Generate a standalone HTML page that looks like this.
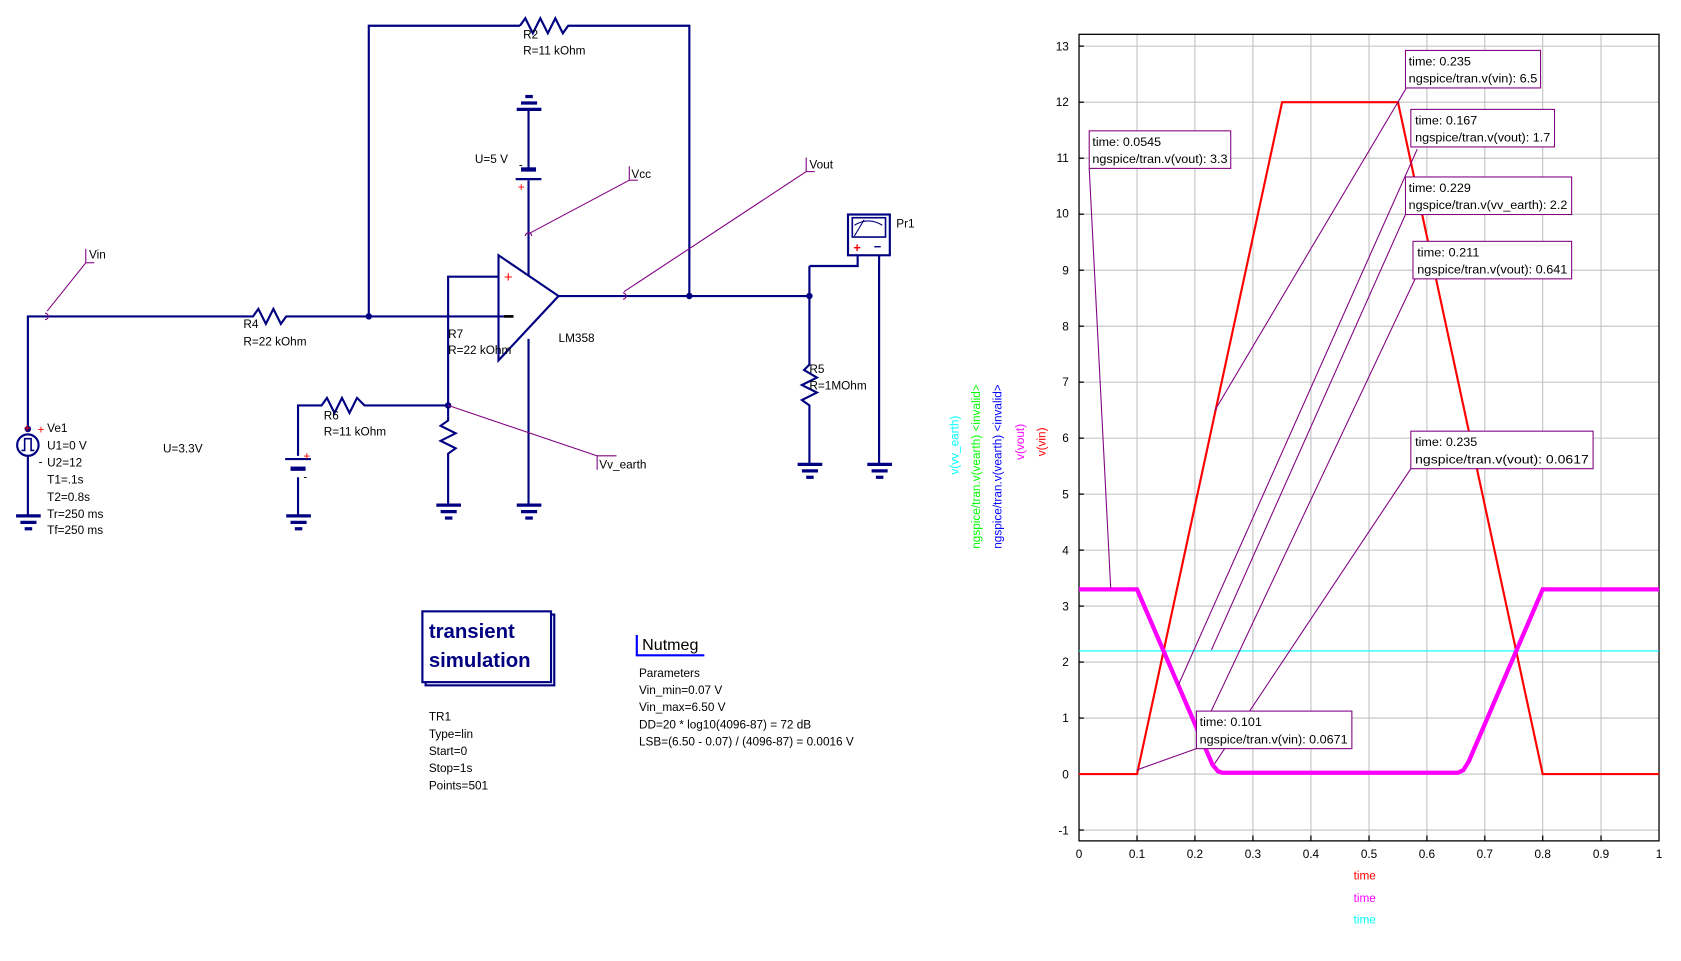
<!DOCTYPE html>
<html><head><meta charset="utf-8"><style>
html,body{margin:0;padding:0;background:#fff;width:1681px;height:961px;overflow:hidden}
svg{display:block}
text{font-family:"Liberation Sans","DejaVu Sans",sans-serif}
</style></head><body>
<svg width="1681" height="961" viewBox="0 0 1568 896" preserveAspectRatio="none" xmlns="http://www.w3.org/2000/svg">
<g fill="none" stroke="#000080" stroke-width="2">
<polyline points="344,295 344,24 485,24"/>
<polyline points="485,24 490,17 497,31 504,17 511,31 518,17 525,31 530,24 643,24 643,276"/>
<polyline points="26,400 26,295 222,295"/>
<polyline points="222,295 236,295 241,288 248,302 255,288 262,302 267,295 470,295"/>
<polyline points="465,258 418,258 418,388"/>
<polyline points="418,388 418,392 411,397 425,404 411,411 425,418 418,423 418,470"/>
<polyline points="278,425 278,378 300,378 305,371 312,385 319,371 326,385 333,371 340,378 418,378"/>
<polyline points="278,445 278,480"/>
<line x1="266" y1="428" x2="290" y2="428"/>
<polygon points="465,238 465,336 521,276"/>
<line x1="521" y1="276" x2="755" y2="276"/>
<line x1="493" y1="103" x2="493" y2="158"/>
<line x1="493" y1="168" x2="493" y2="257"/>
<line x1="493" y1="316" x2="493" y2="470"/>
<line x1="481" y1="167" x2="505" y2="167"/>
<polyline points="755,248 755,340 750,345 762,352 748,359 762,366 748,373 755,378 755,432"/>
<polyline points="755,248 800,248 800,238"/>
<line x1="820" y1="238" x2="820" y2="432"/>
<rect x="791" y="200" width="39" height="38"/>
<rect x="795" y="203" width="31" height="18" stroke-width="1.5"/>
<line x1="26" y1="425" x2="26" y2="480"/>
<circle cx="26" cy="415" r="10"/>
<polyline points="20,420 23,420 23,409 29,409 29,420 32,420" stroke-width="1.5"/>
<g stroke-width="3">
<line x1="15" y1="481" x2="38" y2="481"/><line x1="19" y1="487" x2="34" y2="487"/><line x1="23" y1="493" x2="30" y2="493"/>
<line x1="267" y1="481" x2="290" y2="481"/><line x1="271" y1="487" x2="286" y2="487"/><line x1="275" y1="493" x2="282" y2="493"/>
<line x1="407" y1="471" x2="430" y2="471"/><line x1="411" y1="477" x2="426" y2="477"/><line x1="415" y1="483" x2="422" y2="483"/>
<line x1="482" y1="471" x2="505" y2="471"/><line x1="486" y1="477" x2="501" y2="477"/><line x1="490" y1="483" x2="497" y2="483"/>
<line x1="744" y1="433" x2="767" y2="433"/><line x1="748" y1="439" x2="763" y2="439"/><line x1="752" y1="445" x2="759" y2="445"/>
<line x1="809" y1="433" x2="832" y2="433"/><line x1="813" y1="439" x2="828" y2="439"/><line x1="817" y1="445" x2="824" y2="445"/>
<line x1="482" y1="102" x2="505" y2="102"/><line x1="486" y1="96" x2="501" y2="96"/><line x1="490" y1="90" x2="497" y2="90"/>
<line x1="486" y1="158" x2="500" y2="158" stroke-width="4"/>
<line x1="271" y1="437" x2="285" y2="437" stroke-width="4"/>
</g>
</g>
<line x1="797" y1="220" x2="806" y2="205" stroke="#000080" stroke-width="1"/>
<path d="M797,210 Q810,202 823,210" fill="none" stroke="#000080" stroke-width="1"/>
<text x="796" y="235" fill="#f00" font-size="12" font-weight="bold">+</text>
<text x="815" y="234" fill="#000080" font-size="12" font-weight="bold">−</text>
<g fill="#000080">
<circle cx="344" cy="295" r="3"/><circle cx="643" cy="276" r="3"/><circle cx="418" cy="378" r="3"/><circle cx="755" cy="276" r="3"/><circle cx="26" cy="400" r="3"/>
</g>
<text x="470" y="263" fill="#f00" font-size="14">+</text>
<line x1="470" y1="295" x2="479" y2="295" stroke="#000" stroke-width="2.5"/>
<g stroke="#800080" stroke-width="1" fill="none">
<polyline points="44,290 80,245 80,232"/><line x1="80" y1="245" x2="88" y2="245"/>
<polyline points="493,218 587,168 587,155"/><line x1="587" y1="168" x2="595" y2="168"/>
<polyline points="582,272 752,160 752,147"/><line x1="752" y1="160" x2="760" y2="160"/>
<polyline points="418,378 557,425 557,438"/><line x1="557" y1="425" x2="575" y2="425"/>
<path d="M42,292 a3,3 0 1 1 0,6"/><path d="M581,273 a3,3 0 1 1 0,6"/><path d="M490,220 a3,3 0 1 1 6,0"/>
</g>
<g font-size="11" fill="#000">
<text x="488" y="36">R2</text><text x="488" y="51">R=11 kOhm</text>
<text x="227" y="306">R4</text><text x="227" y="322">R=22 kOhm</text>
<text x="418" y="315">R7</text><text x="418" y="330">R=22 kOhm</text>
<text x="302" y="391">R6</text><text x="302" y="406">R=11 kOhm</text>
<text x="755" y="348">R5</text><text x="755" y="363">R=1MOhm</text>
<text x="521" y="319">LM358</text>
<text x="443" y="152">U=5 V</text>
<text x="152" y="422">U=3.3V</text>
<text x="836" y="212">Pr1</text>
<text x="44" y="403">Ve1</text><text x="44" y="419">U1=0 V</text><text x="44" y="435">U2=12</text><text x="44" y="451">T1=.1s</text><text x="44" y="467">T2=0.8s</text><text x="44" y="483">Tr=250 ms</text><text x="44" y="498">Tf=250 ms</text>
<text x="83" y="241">Vin</text><text x="589" y="166">Vcc</text><text x="755" y="157">Vout</text><text x="559" y="437">Vv_earth</text>
<text x="400" y="672">TR1</text><text x="400" y="688">Type=lin</text><text x="400" y="704">Start=0</text><text x="400" y="720">Stop=1s</text><text x="400" y="736">Points=501</text>
<text x="596" y="631">Parameters</text><text x="596" y="647">Vin_min=0.07 V</text><text x="596" y="663">Vin_max=6.50 V</text><text x="596" y="679">DD=20 * log10(4096-87) = 72 dB</text><text x="596" y="695">LSB=(6.50 - 0.07) / (4096-87) = 0.0016 V</text>
</g>
<text x="22" y="403" fill="#f00" font-size="11">+</text><text x="35" y="404" fill="#f00" font-size="11">+</text>
<text x="483" y="178" fill="#f00" font-size="11">+</text><text x="283" y="429" fill="#f00" font-size="11">+</text>
<text x="283" y="448" font-size="11">-</text><text x="36" y="434" font-size="11">-</text><text x="484" y="157" font-size="11">-</text>
<rect x="397" y="573" width="120" height="66" fill="none" stroke="#000080" stroke-width="2"/>
<rect x="394" y="570" width="120" height="66" fill="#fff" stroke="#000080" stroke-width="2"/>
<text x="400" y="595" font-size="19" font-weight="bold" fill="#000080">transient</text>
<text x="400" y="622" font-size="19" font-weight="bold" fill="#000080">simulation</text>
<text x="599" y="606" font-size="15">Nutmeg</text>
<polyline points="594,592 594,611 657,611" fill="none" stroke="#00f" stroke-width="2"/>
<g stroke="#c0c0c0" stroke-width="1">
<line x1="1060.6" y1="32" x2="1060.6" y2="784"/><line x1="1114.6" y1="32" x2="1114.6" y2="784"/><line x1="1168.7" y1="32" x2="1168.7" y2="784"/><line x1="1222.8" y1="32" x2="1222.8" y2="784"/><line x1="1277" y1="32" x2="1277" y2="784"/><line x1="1331" y1="32" x2="1331" y2="784"/><line x1="1385" y1="32" x2="1385" y2="784"/><line x1="1439" y1="32" x2="1439" y2="784"/><line x1="1493.4" y1="32" x2="1493.4" y2="784"/>
<line x1="1006" y1="43" x2="1548" y2="43"/><line x1="1006" y1="95.3" x2="1548" y2="95.3"/><line x1="1006" y1="147.5" x2="1548" y2="147.5"/><line x1="1006" y1="199.7" x2="1548" y2="199.7"/><line x1="1006" y1="251.9" x2="1548" y2="251.9"/><line x1="1006" y1="304.1" x2="1548" y2="304.1"/><line x1="1006" y1="356.3" x2="1548" y2="356.3"/><line x1="1006" y1="408.5" x2="1548" y2="408.5"/><line x1="1006" y1="460.7" x2="1548" y2="460.7"/><line x1="1006" y1="512.9" x2="1548" y2="512.9"/><line x1="1006" y1="565.1" x2="1548" y2="565.1"/><line x1="1006" y1="617.3" x2="1548" y2="617.3"/><line x1="1006" y1="669.5" x2="1548" y2="669.5"/><line x1="1006" y1="721.7" x2="1548" y2="721.7"/><line x1="1006" y1="773.9" x2="1548" y2="773.9"/>
</g>
<rect x="1006.5" y="32" width="541" height="752" fill="none" stroke="#000" stroke-width="1.2"/>
<g stroke="#000" stroke-width="1.2">
<line x1="1006" y1="43" x2="1011" y2="43"/><line x1="1006" y1="95.3" x2="1011" y2="95.3"/><line x1="1006" y1="147.5" x2="1011" y2="147.5"/><line x1="1006" y1="199.7" x2="1011" y2="199.7"/><line x1="1006" y1="251.9" x2="1011" y2="251.9"/><line x1="1006" y1="304.1" x2="1011" y2="304.1"/><line x1="1006" y1="356.3" x2="1011" y2="356.3"/><line x1="1006" y1="408.5" x2="1011" y2="408.5"/><line x1="1006" y1="460.7" x2="1011" y2="460.7"/><line x1="1006" y1="512.9" x2="1011" y2="512.9"/><line x1="1006" y1="565.1" x2="1011" y2="565.1"/><line x1="1006" y1="617.3" x2="1011" y2="617.3"/><line x1="1006" y1="669.5" x2="1011" y2="669.5"/><line x1="1006" y1="721.7" x2="1011" y2="721.7"/><line x1="1006" y1="773.9" x2="1011" y2="773.9"/>
<line x1="1060.6" y1="779" x2="1060.6" y2="784"/><line x1="1114.6" y1="779" x2="1114.6" y2="784"/><line x1="1168.7" y1="779" x2="1168.7" y2="784"/><line x1="1222.8" y1="779" x2="1222.8" y2="784"/><line x1="1277" y1="779" x2="1277" y2="784"/><line x1="1331" y1="779" x2="1331" y2="784"/><line x1="1385" y1="779" x2="1385" y2="784"/><line x1="1439" y1="779" x2="1439" y2="784"/><line x1="1493.4" y1="779" x2="1493.4" y2="784"/>
</g>
<g font-size="11" fill="#000" text-anchor="end">
<text x="997" y="47">13</text><text x="997" y="99">12</text><text x="997" y="151">11</text><text x="997" y="203">10</text><text x="997" y="256">9</text><text x="997" y="308">8</text><text x="997" y="360">7</text><text x="997" y="412">6</text><text x="997" y="465">5</text><text x="997" y="517">4</text><text x="997" y="569">3</text><text x="997" y="621">2</text><text x="997" y="673">1</text><text x="997" y="726">0</text><text x="997" y="778">-1</text>
</g>
<g font-size="11" fill="#000" text-anchor="middle">
<text x="1006.5" y="800">0</text><text x="1060.6" y="800">0.1</text><text x="1114.6" y="800">0.2</text><text x="1168.7" y="800">0.3</text><text x="1222.8" y="800">0.4</text><text x="1277" y="800">0.5</text><text x="1331" y="800">0.6</text><text x="1385" y="800">0.7</text><text x="1439" y="800">0.8</text><text x="1493.4" y="800">0.9</text><text x="1547.5" y="800">1</text>
<text x="1273" y="820" fill="#f00">time</text><text x="1273" y="841" fill="#f0f">time</text><text x="1273" y="861" fill="#0ff">time</text>
</g>
<g font-size="11" text-anchor="middle">
<text transform="translate(894,415) rotate(-90)" fill="#0ff">v(vv_earth)</text>
<text transform="translate(914,435) rotate(-90)" fill="#0f0">ngspice/tran.v(vearth) &lt;invalid&gt;</text>
<text transform="translate(934,435) rotate(-90)" fill="#00f">ngspice/tran.v(vearth) &lt;invalid&gt;</text>
<text transform="translate(955,412) rotate(-90)" fill="#f0f">v(vout)</text>
<text transform="translate(975,412) rotate(-90)" fill="#f00">v(vin)</text>
</g>
<line x1="1006.5" y1="606.9" x2="1547.5" y2="606.9" stroke="#0ff" stroke-width="1"/>
<polyline points="1006.5,721.7 1060.6,721.7 1195.9,95.3 1304,95.3 1439,721.7 1547.5,721.7" fill="none" stroke="#f00" stroke-width="2"/>
<polyline points="1006.5,549.5 1060.6,549.5 1131,713 1136,719 1140,720.5 1360,720.5 1365,718 1370,710 1439,549.5 1547.5,549.5" fill="none" stroke="#f0f" stroke-width="4"/>
<g stroke="#800080" stroke-width="1" fill="none">
<line x1="1016" y1="157" x2="1036" y2="548"/>
<line x1="1313" y1="80" x2="1133" y2="383"/>
<line x1="1322" y1="139" x2="1099" y2="639"/>
<line x1="1311" y1="200" x2="1130" y2="606"/>
<line x1="1320" y1="260" x2="1117" y2="690"/>
<line x1="1316" y1="437" x2="1133" y2="712"/>
<line x1="1116" y1="698" x2="1060" y2="718"/>
</g>
<g fill="#fff" stroke="#800080" stroke-width="1">
<rect x="1016" y="122" width="132" height="35"/>
<rect x="1311" y="47" width="126" height="35"/>
<rect x="1316" y="102" width="134" height="35"/>
<rect x="1311" y="165" width="155" height="35"/>
<rect x="1318" y="225" width="148" height="35"/>
<rect x="1316" y="402" width="170" height="35"/>
<rect x="1116" y="663" width="145" height="35"/>
</g>
<g font-size="11" fill="#000" lengthAdjust="spacingAndGlyphs">
<text x="1019" y="136" textLength="64" lengthAdjust="spacingAndGlyphs">time: 0.0545</text><text x="1019" y="152" textLength="126" lengthAdjust="spacingAndGlyphs">ngspice/tran.v(vout): 3.3</text>
<text x="1314" y="61" textLength="58" lengthAdjust="spacingAndGlyphs">time: 0.235</text><text x="1314" y="77" textLength="120" lengthAdjust="spacingAndGlyphs">ngspice/tran.v(vin): 6.5</text>
<text x="1320" y="116" textLength="58" lengthAdjust="spacingAndGlyphs">time: 0.167</text><text x="1320" y="132" textLength="126" lengthAdjust="spacingAndGlyphs">ngspice/tran.v(vout): 1.7</text>
<text x="1314" y="179" textLength="58" lengthAdjust="spacingAndGlyphs">time: 0.229</text><text x="1314" y="195" textLength="148" lengthAdjust="spacingAndGlyphs">ngspice/tran.v(vv_earth): 2.2</text>
<text x="1322" y="239" textLength="58" lengthAdjust="spacingAndGlyphs">time: 0.211</text><text x="1322" y="255" textLength="140" lengthAdjust="spacingAndGlyphs">ngspice/tran.v(vout): 0.641</text>
<text x="1320" y="416" textLength="58" lengthAdjust="spacingAndGlyphs">time: 0.235</text><text x="1320" y="432" textLength="162" lengthAdjust="spacingAndGlyphs">ngspice/tran.v(vout): 0.0617</text>
<text x="1119" y="677" textLength="58" lengthAdjust="spacingAndGlyphs">time: 0.101</text><text x="1119" y="693" textLength="138" lengthAdjust="spacingAndGlyphs">ngspice/tran.v(vin): 0.0671</text>
</g>
</svg>
</body></html>
